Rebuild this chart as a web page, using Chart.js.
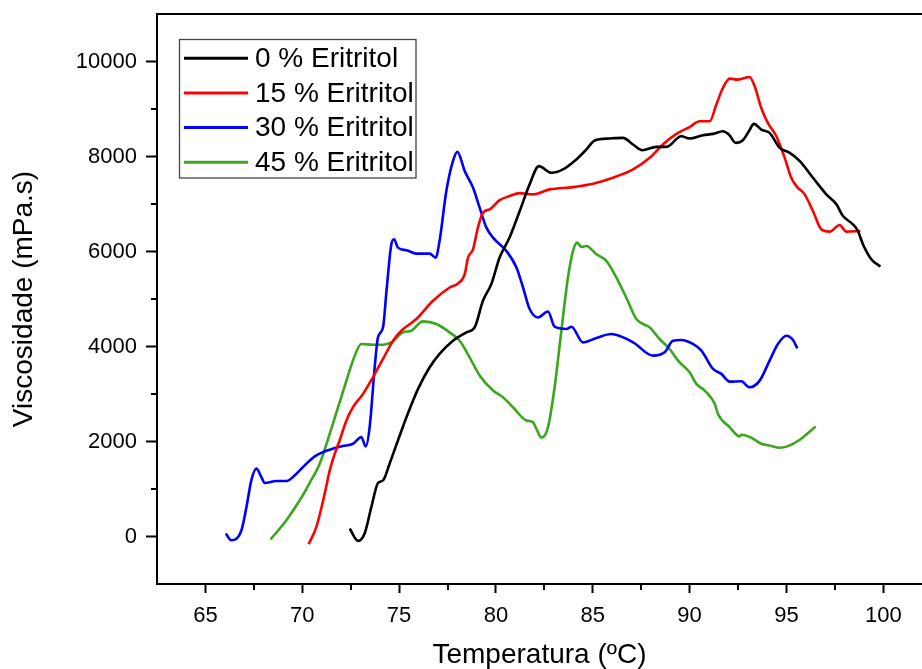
<!DOCTYPE html>
<html>
<head>
<meta charset="utf-8">
<script src="https://cdn.jsdelivr.net/npm/chart.js@4.4.1/dist/chart.umd.min.js"></script>
<style>
  html, body { margin: 0; padding: 0; background: #fff; overflow: hidden; }
</style>
</head>
<body>
<canvas id="chart" width="922" height="669"></canvas>
<script>
// Viscosidade x Temperatura - curvas por teor de eritritol

// 0 % Eritritol
const temp0 = [72.45, 72.88, 73.22, 73.57, 73.91, 74.17, 74.51, 74.94, 75.38, 75.98, 76.58, 77.09, 77.78, 78.47, 78.90, 79.33, 79.76, 80.19, 80.71, 81.23, 81.74, 82.22, 82.86, 83.46, 84.15, 84.67, 85.10, 85.87, 86.56, 87.08, 87.56, 88.28, 88.80, 89.57, 90.00, 90.69, 91.21, 91.72, 92.03, 92.38, 92.75, 93.06, 93.32, 93.70, 94.13, 94.65, 95.17, 95.69, 96.37, 97.06, 97.58, 97.92, 98.43, 98.69, 98.95, 99.38, 99.85];
const visc0 = [168, -92, 63, 622, 1126, 1182, 1533, 2022, 2512, 3108, 3562, 3843, 4122, 4297, 4402, 4962, 5313, 5872, 6300, 6852, 7413, 7797, 7657, 7728, 7938, 8148, 8337, 8379, 8392, 8253, 8133, 8203, 8203, 8427, 8379, 8448, 8476, 8532, 8463, 8287, 8343, 8532, 8686, 8568, 8497, 8182, 8077, 7902, 7552, 7203, 6993, 6747, 6573, 6432, 6153, 5838, 5683];

// 15 % Eritritol
const temp15 = [70.33, 70.73, 71.16, 71.42, 71.68, 71.93, 72.28, 72.62, 73.14, 73.65, 74.17, 74.69, 75.12, 75.89, 76.75, 77.61, 78.04, 78.39, 78.56, 78.82, 79.07, 79.33, 79.68, 80.19, 80.71, 81.23, 81.91, 82.78, 83.98, 85.01, 86.04, 87.08, 87.94, 88.62, 89.32, 90.00, 90.52, 91.04, 91.38, 91.72, 92.07, 92.50, 93.10, 93.36, 93.70, 94.04, 94.48, 94.91, 95.25, 95.51, 95.94, 96.37, 96.80, 97.23, 97.75, 98.09, 98.82];
const visc15 = [-162, 202, 903, 1392, 1743, 2022, 2442, 2722, 3003, 3352, 3738, 4122, 4332, 4578, 4962, 5242, 5326, 5523, 5872, 6048, 6502, 6817, 6888, 7080, 7167, 7230, 7203, 7308, 7356, 7426, 7552, 7728, 7972, 8253, 8476, 8620, 8742, 8742, 9093, 9442, 9639, 9618, 9673, 9478, 9022, 8707, 8427, 7972, 7552, 7377, 7203, 6852, 6468, 6418, 6558, 6418, 6432];

// 30 % Eritritol
const temp30 = [66.05, 66.34, 66.86, 67.12, 67.37, 67.63, 67.89, 68.06, 68.67, 69.18, 69.70, 70.21, 70.73, 71.42, 72.10, 72.62, 73.05, 73.28, 73.48, 73.74, 73.91, 74.17, 74.35, 74.60, 74.74, 74.94, 75.38, 75.89, 76.58, 76.89, 77.09, 77.44, 77.78, 78.01, 78.39, 78.82, 79.16, 79.51, 79.85, 80.54, 81.06, 81.40, 81.74, 82.17, 82.69, 83.03, 83.64, 83.90, 84.49, 85.19, 85.96, 87.08, 88.11, 88.71, 89.14, 89.57, 90.17, 90.61, 91.21, 91.64, 92.07, 92.67, 93.10, 93.62, 94.13, 94.56, 95.00, 95.34, 95.56];
const visc30 = [63, -78, 132, 622, 1182, 1428, 1252, 1126, 1168, 1168, 1323, 1533, 1707, 1827, 1903, 1953, 2092, 1896, 2302, 3562, 4192, 4402, 5172, 6153, 6258, 6082, 6027, 5956, 5956, 5872, 6222, 7272, 7902, 8098, 7692, 7342, 6922, 6502, 6292, 6012, 5662, 5242, 4788, 4612, 4738, 4416, 4368, 4416, 4087, 4179, 4263, 4087, 3807, 3877, 4122, 4137, 4053, 3912, 3528, 3423, 3261, 3268, 3142, 3282, 3702, 4053, 4227, 4137, 3961];

// 45 % Eritritol
const temp45 = [68.36, 69.18, 69.87, 70.38, 70.90, 71.42, 71.85, 72.28, 72.71, 73.05, 73.65, 74.17, 74.60, 75.20, 75.63, 76.23, 76.93, 77.61, 78.13, 78.64, 79.16, 79.85, 80.36, 80.88, 81.57, 81.91, 82.09, 82.35, 82.69, 83.03, 83.38, 83.72, 83.98, 84.20, 84.41, 84.67, 85.19, 85.70, 86.22, 86.73, 87.25, 87.94, 88.45, 88.97, 89.40, 90.00, 90.35, 90.78, 91.30, 91.46, 92.07, 92.59, 92.67, 93.19, 93.70, 94.13, 94.65, 95.08, 95.69, 96.51];
const visc45 = [-63, 342, 762, 1126, 1533, 2163, 2722, 3282, 3807, 4053, 4038, 4038, 4087, 4297, 4332, 4528, 4473, 4297, 4122, 3772, 3390, 3072, 2932, 2722, 2442, 2407, 2268, 2079, 2302, 3142, 4332, 5452, 6012, 6187, 6096, 6117, 5943, 5802, 5452, 5032, 4578, 4402, 4158, 3948, 3702, 3457, 3213, 3072, 2793, 2583, 2302, 2106, 2142, 2079, 1953, 1917, 1869, 1903, 2037, 2316];

const seriesLabels = ['0 % Eritritol', '15 % Eritritol', '30 % Eritritol', '45 % Eritritol'];
const seriesColors = ['#000000', '#ff0000', '#0000ff', '#3aa61e'];

// ticks
const xTicks = [65, 70, 75, 80, 85, 90, 95, 100];
const xMinorTicks = [67.5, 72.5, 77.5, 82.5, 87.5, 92.5, 97.5];
const yTicks = [0, 2000, 4000, 6000, 8000, 10000];
const yMinorTicks = [1000, 3000, 5000, 7000, 9000];

const FONT = '"Liberation Sans", Arial, sans-serif';
Chart.defaults.font.family = FONT;
Chart.defaults.color = '#000';

const toPoints = (xs, ys) => xs.map((x, i) => ({ x, y: ys[i] }));
const allTemps = [temp0, temp15, temp30, temp45];
const allVisc = [visc0, visc15, visc30, visc45];

const datasets = seriesLabels.map((label, i) => ({
    label,
    data: toPoints(allTemps[i], allVisc[i]),
    borderColor: seriesColors[i],
    backgroundColor: seriesColors[i],
    borderWidth: 2.6,
    pointRadius: 0,
    cubicInterpolationMode: 'monotone',
    fill: false
}));

// moldura superior, ticks menores e legenda no estilo Origin
const framePlugin = {
    id: 'originFrame',
    afterDraw(chart) {
        const { ctx, chartArea: a, scales: { x, y } } = chart;
        ctx.save();
        ctx.strokeStyle = '#000';
        ctx.lineWidth = 2;
        ctx.beginPath();
        ctx.moveTo(a.left - 1, a.top);
        ctx.lineTo(a.right, a.top);
        ctx.stroke();

        ctx.beginPath();
        xMinorTicks.forEach(v => {
            const px = Math.round(x.getPixelForValue(v));
            ctx.moveTo(px, a.bottom);
            ctx.lineTo(px, a.bottom + 6);
        });
        yMinorTicks.forEach(v => {
            const py = Math.round(y.getPixelForValue(v));
            ctx.moveTo(a.left, py);
            ctx.lineTo(a.left - 6, py);
        });
        ctx.stroke();

        // legenda
        const bx = a.left + 22.5, by = a.top + 25.5, bw = 236.5, bh = 138.5;
        ctx.fillStyle = '#fff';
        ctx.fillRect(bx, by, bw, bh);
        ctx.strokeStyle = '#444';
        ctx.lineWidth = 1.3;
        ctx.strokeRect(bx, by, bw, bh);
        ctx.font = '28px ' + FONT;
        ctx.textBaseline = 'middle';
        ctx.textAlign = 'left';
        chart.data.datasets.forEach((ds, i) => {
            const ly = by + 18.7 + i * 34.7;
            ctx.strokeStyle = ds.borderColor;
            ctx.lineWidth = 3;
            ctx.beginPath();
            ctx.moveTo(bx + 4.5, ly);
            ctx.lineTo(bx + 68.5, ly);
            ctx.stroke();
            ctx.fillStyle = '#000';
            ctx.fillText(ds.label, bx + 75.5, ly + 1);
        });
        ctx.restore();
    }
};

new Chart(document.getElementById('chart').getContext('2d'), {
    type: 'line',
    data: { datasets },
    plugins: [framePlugin],
    options: {
        responsive: false,
        animation: false,
        layout: { padding: { top: 14, right: 0, left: 0, bottom: 0 } },
        plugins: {
            legend: { display: false },
            tooltip: { enabled: false }
        },
        scales: {
            x: {
                type: 'linear',
                min: 62.5,
                max: 102,
                afterBuildTicks: s => { s.ticks = xTicks.map(v => ({ value: v })); },
                afterFit: s => { s.height = 85; s.paddingLeft = 0; s.paddingRight = 0; },
                grid: { drawOnChartArea: false, tickLength: 9, tickColor: '#000', tickWidth: 2 },
                border: { display: true, color: '#000', width: 2 },
                ticks: { color: '#000', font: { size: 22 }, padding: 10, maxRotation: 0, autoSkip: false },
                title: {
                    display: true,
                    text: 'Temperatura (ºC)',
                    color: '#000',
                    font: { size: 28, lineHeight: 1 },
                    padding: { top: -7, bottom: 0 }
                }
            },
            y: {
                type: 'linear',
                min: -1000,
                max: 11000,
                afterBuildTicks: s => { s.ticks = yTicks.map(v => ({ value: v })); },
                afterFit: s => { s.width = 157; s.paddingTop = 0; s.paddingBottom = 0; },
                grid: { drawOnChartArea: false, tickLength: 11, tickColor: '#000', tickWidth: 2 },
                border: { display: true, color: '#000', width: 2 },
                ticks: { color: '#000', font: { size: 22 }, padding: 9, callback: v => String(v) },
                title: {
                    display: true,
                    text: 'Viscosidade (mPa.s)',
                    color: '#000',
                    font: { size: 28, lineHeight: 1 },
                    padding: { top: 10, bottom: 0 }
                }
            }
        }
    }
});
</script>
</body>
</html>
